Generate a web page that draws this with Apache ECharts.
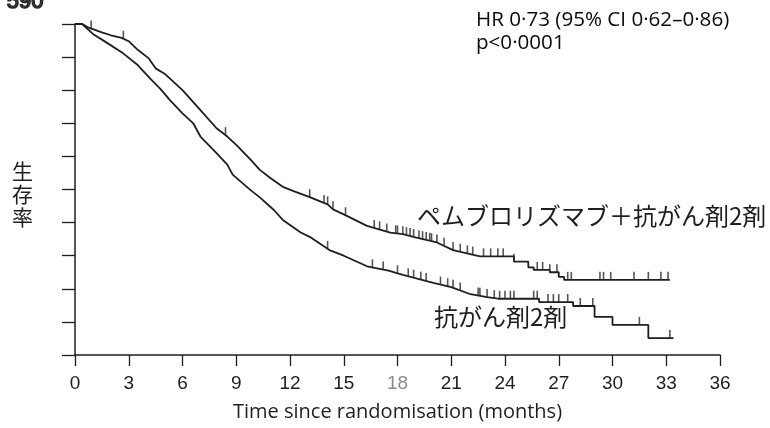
<!DOCTYPE html>
<html>
<head>
<meta charset="utf-8">
<script src="https://cdn.jsdelivr.net/npm/echarts@6/dist/echarts.min.js"></script>
<style>
  html, body { margin: 0; padding: 0; background: #fff; }
  #chart { width: 770px; height: 428px; }
</style>
</head>
<body>
<div id="chart"></div>
<script>
// Kaplan-Meier overall survival, two arms
const xTicks = [0, 3, 6, 9, 12, 15, 18, 21, 24, 27, 30, 33, 36];

// Pembrolizumab + chemo: densely stepped early part (months, survival)
const pembroTimes = [0, 0.4, 0.8, 1.5, 2.0, 2.6, 3.0, 3.5, 4.1, 4.5, 5.0, 6.0, 7.0, 7.9, 8.5, 9.0, 9.8, 10.3, 10.9, 11.6, 12.2, 13.1, 14.1, 14.4, 15.0, 16.3, 17.6, 18.3, 19.0, 20.2, 21.1, 22.6];
const pembroSurv  = [1.0, 1.0, 0.988, 0.975, 0.966, 0.958, 0.948, 0.922, 0.897, 0.866, 0.85, 0.80, 0.74, 0.685, 0.66, 0.635, 0.59, 0.56, 0.535, 0.508, 0.495, 0.477, 0.455, 0.44, 0.425, 0.39, 0.37, 0.365, 0.355, 0.34, 0.317, 0.298];
// Pembrolizumab + chemo: sparse tail drawn as steps
const pembroTailTimes = [22.6, 24.5, 25.3, 25.6, 26.5, 27.0, 27.3, 33.2];
const pembroTailSurv  = [0.298, 0.282, 0.265, 0.257, 0.25, 0.236, 0.227, 0.227];
const pembroCensor = [0.9, 2.7, 8.4, 13.1, 13.9, 14.1, 14.4, 15.1, 16.7, 17.0, 17.4, 17.9, 18.0, 18.3, 18.5, 18.7, 18.9, 19.2, 19.4, 19.6, 19.8, 19.9, 20.2, 20.6, 21.1, 21.5, 21.9, 22.2, 22.8, 23.2, 23.6, 23.9, 24.5, 25.8, 26.1, 26.5, 26.9, 27.5, 27.7, 29.3, 29.5, 29.9, 31.2, 32.0, 32.7, 33.1];

// Chemotherapy alone
const chemoTimes = [0, 0.4, 1.0, 1.7, 2.6, 3.5, 4.2, 4.75, 5.3, 6.0, 6.6, 7.0, 7.9, 8.5, 8.8, 9.8, 10.3, 11.1, 11.6, 12.6, 13.1, 14.2, 15.0, 16.3, 17.5, 18.3, 19.0, 20.0, 21.0, 22.0, 23.0, 23.6];
const chemoSurv  = [1.0, 1.0, 0.97, 0.946, 0.915, 0.876, 0.835, 0.805, 0.77, 0.73, 0.70, 0.66, 0.61, 0.575, 0.545, 0.498, 0.477, 0.438, 0.408, 0.37, 0.357, 0.317, 0.30, 0.268, 0.255, 0.242, 0.232, 0.218, 0.205, 0.185, 0.175, 0.17];
const chemoTailTimes = [23.6, 25.9, 27.8, 29.0, 30.0, 32.0, 33.4];
const chemoTailSurv  = [0.17, 0.16, 0.148, 0.115, 0.091, 0.051, 0.051];
const chemoCensor = [14.1, 16.6, 17.2, 18.0, 18.6, 18.9, 19.3, 19.6, 20.4, 20.8, 21.1, 21.5, 22.5, 22.6, 23.0, 23.4, 23.7, 24.0, 24.3, 24.5, 25.6, 25.8, 26.4, 26.7, 27.0, 27.5, 28.2, 28.9, 31.5, 33.2];

const zip = (a, b) => a.map((v, i) => [v, b[i]]);

// survival value at time t: linear over the dense part, stepwise over the tail
function survivalAt(times, surv, tailTimes, tailSurv, t) {
  if (t <= tailTimes[0]) {
    for (let i = 1; i < times.length; i++) {
      if (t <= times[i]) {
        const f = (t - times[i - 1]) / (times[i] - times[i - 1]);
        return surv[i - 1] + f * (surv[i] - surv[i - 1]);
      }
    }
    return surv[surv.length - 1];
  }
  let s = tailSurv[0];
  for (let i = 0; i < tailTimes.length; i++) {
    if (tailTimes[i] <= t) s = tailSurv[i];
  }
  return s;
}

const censorPoints = (list, a, b, c, d) => list.map(t => [t, survivalAt(a, b, c, d, t)]);

const ink = '#1e1e1e';
const lineStyle = { color: ink, width: 1.8 };
const tickMark = {
  type: 'scatter', symbol: 'rect', symbolSize: [1.6, 8], symbolOffset: [0, -4],
  itemStyle: { color: '#2a2a2a' }, silent: true, z: 3
};

const chart = echarts.init(document.getElementById('chart'), null, { renderer: 'canvas' });
chart.setOption({
  animation: false,
  backgroundColor: '#fff',
  grid: { left: 75, top: 24, width: 645, height: 331, containLabel: false, outerBoundsMode: 'none' },
  xAxis: {
    type: 'value', min: 0, max: 36, interval: 3,
    axisLine: { lineStyle: { color: ink, width: 1.5 } },
    axisTick: { length: 11, lineStyle: { color: ink, width: 1.3 } },
    splitLine: { show: false },
    axisLabel: {
      margin: 19, fontSize: 19, color: ink, fontFamily: 'Liberation Sans, sans-serif',
      formatter: v => v === 18 ? '{g|18}' : String(v),
      rich: { g: { color: '#8a8a8a', fontSize: 19, fontFamily: 'Liberation Sans, sans-serif' } }
    },
    name: 'Time since randomisation (months)',
    nameLocation: 'middle', nameGap: 47,
    nameTextStyle: { fontSize: 20, color: ink, fontFamily: 'Open Sans, sans-serif' }
  },
  yAxis: {
    type: 'value', min: 0, max: 1, interval: 0.1,
    axisLine: { show: true, lineStyle: { color: ink, width: 1.5 } },
    axisTick: { show: true, length: 13, lineStyle: { color: ink, width: 1.3 } },
    axisLabel: { show: false },
    splitLine: { show: false }
  },
  series: [
    { type: 'line', data: zip(pembroTimes, pembroSurv), showSymbol: false, lineStyle, z: 2 },
    { type: 'line', step: 'end', data: zip(pembroTailTimes, pembroTailSurv), showSymbol: false, lineStyle, z: 2 },
    { type: 'line', data: zip(chemoTimes, chemoSurv), showSymbol: false, lineStyle, z: 2 },
    { type: 'line', step: 'end', data: zip(chemoTailTimes, chemoTailSurv), showSymbol: false, lineStyle, z: 2 },
    Object.assign({ data: censorPoints(pembroCensor, pembroTimes, pembroSurv, pembroTailTimes, pembroTailSurv) }, tickMark),
    Object.assign({ data: censorPoints(chemoCensor, chemoTimes, chemoSurv, chemoTailTimes, chemoTailSurv) }, tickMark)
  ],
  graphic: [
    { type: 'text', left: 6, top: -10, style: { text: '590', fontSize: 22, fill: '#333', fontFamily: 'Liberation Sans, sans-serif' } },
    { type: 'text', left: 476, top: 9, style: { text: 'HR 0·73 (95% CI 0·62–0·86)\np<0·0001', fontSize: 20.6, lineHeight: 23, fill: '#0a0a0a', fontFamily: 'Open Sans, sans-serif' } },
    { type: 'text', left: 12, top: 160, style: { text: '生\n存\n率', fontSize: 21, lineHeight: 23, fill: ink, fontFamily: 'Noto Sans CJK JP, sans-serif' } },
    { type: 'text', left: 417, top: 204, style: { text: 'ペムブロリズマブ＋抗がん剤2剤', fontSize: 24, fill: ink, fontFamily: 'Noto Sans CJK JP, sans-serif' } },
    { type: 'text', left: 434, top: 305, style: { text: '抗がん剤2剤', fontSize: 24, fill: ink, fontFamily: 'Noto Sans CJK JP, sans-serif' } }
  ]
});

// short stub of the time axis to the left of the origin
const origin = chart.convertToPixel({ gridIndex: 0 }, [0, 0]);
chart.setOption({
  graphic: [{ type: 'line', shape: { x1: origin[0] - 17, y1: origin[1], x2: origin[0], y2: origin[1] }, style: { stroke: ink, lineWidth: 1.5 } }]
});
</script>
</body>
</html>
